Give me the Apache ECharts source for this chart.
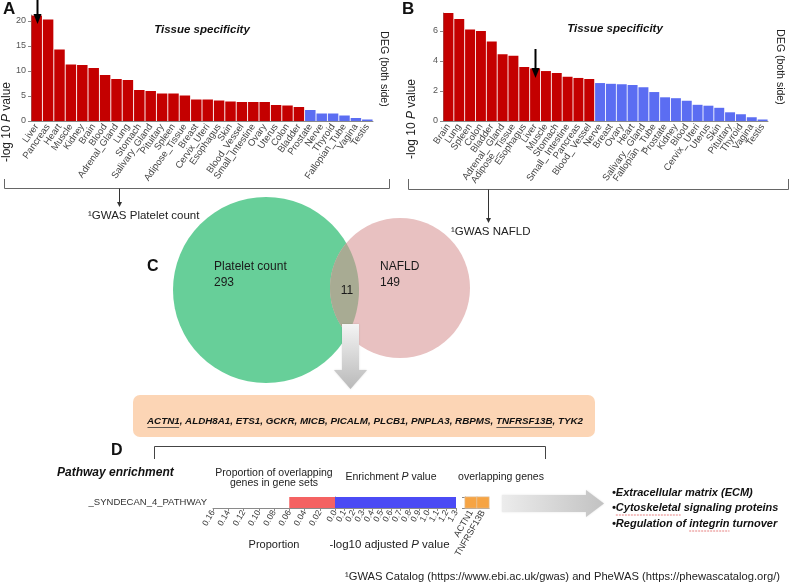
<!DOCTYPE html>
<html><head><meta charset="utf-8">
<script src="https://cdn.jsdelivr.net/npm/echarts/dist/echarts.min.js"></script>
<style>html,body{margin:0;padding:0;background:#fff}#c{width:793px;height:587px}</style>
</head><body><div id="c"></div>
<script>
// ---------- DATA ----------
const tissuesA = ['Liver','Pancreas','Heart','Muscle','Kidney','Brain','Blood','Adrenal_Gland','Lung','Stomach','Salivary_Gland','Pituitary','Spleen','Adipose_Tissue','Breast','Cervix_Uteri','Esophagus','Skin','Blood_Vessel','Small_Intestine','Ovary','Uterus','Colon','Bladder','Prostate','Nerve','Thyroid','Fallopian_Tube','Vagina','Testis'];
const valuesA = [21.1,20.3,14.3,11.3,11.2,10.6,9.2,8.4,8.2,6.2,6.0,5.5,5.5,5.1,4.3,4.3,4.1,3.9,3.8,3.8,3.8,3.2,3.1,2.8,2.2,1.5,1.5,1.1,0.6,0.3];
const sigCountA = 24;
const tissuesB = ['Brain','Lung','Spleen','Colon','Bladder','Adrenal_ Gland','Adipose_ Tissue','Esophagus','Liver','Muscle','Stomach','Small_ Intestine','Pancreas','Blood_ Vessel','Nerve','Breast','Ovary','Heart','Salivary_ Gland','Fallopian_ Tube','Prostate','Kidney','Blood','Cervix_ Uteri','Uterus','Skin','Pituitary','Thyroid','Vagina','Testis'];
const valuesB = [7.2,6.8,6.1,6.0,5.3,4.45,4.35,3.6,3.5,3.33,3.2,2.95,2.87,2.8,2.53,2.48,2.45,2.4,2.25,1.93,1.58,1.52,1.35,1.08,1.02,0.88,0.58,0.45,0.25,0.1];
const sigCountB = 14;
const markedTissue = 'Liver';
const vennNames = ['Platelet count','NAFLD'];
const vennCounts = [293,149,11];
const gwasLabels = ['GWAS Platelet count','GWAS NAFLD'];
const overlapGenes = ['ACTN1','ALDH8A1','ETS1','GCKR','MICB','PICALM','PLCB1','PNPLA3','RBPMS','TNFRSF13B','TYK2'];
const underlinedGenes = ['ACTN1','TNFRSF13B'];
const pathways = ['_SYNDECAN_4_PATHWAY'];
const proportion = [0.06];
const enrichment = [1.3];
const pathwayGenes = ['ACTN1','TNFRSF13B'];
const propTicks = [0,0.02,0.04,0.06,0.08,0.10,0.12,0.14,0.16];
const pTicks = [0,0.1,0.2,0.3,0.4,0.5,0.6,0.7,0.8,0.9,1.0,1.1,1.2,1.3];
const bullets = ['Extracellular matrix (ECM)','Cytoskeletal signaling proteins','Regulation of integrin turnover'];
const footnote = 'GWAS Catalog (https://www.ebi.ac.uk/gwas) and PheWAS (https://phewascatalog.org/)';

// ---------- STYLE ----------
const FF = '"Liberation Sans", Arial, sans-serif';
const RED = '#C40000', BLUE = '#5B6DF2';
const AX = '#8a8a8a';
const chart = echarts.init(document.getElementById('c'), null, {renderer:'canvas'});

function catX(gi, data){
  return {type:'category', gridIndex:gi, data:data,
    axisLine:{lineStyle:{color:AX}}, axisTick:{alignWithLabel:true,length:3,lineStyle:{color:AX}},
    axisLabel:{interval:0, rotate:55, fontSize:9.5, color:'#444', margin:4, fontFamily:FF, hideOverlap:false}};
}
function valY(gi, max, interval){
  return {type:'value', gridIndex:gi, min:0, max:max, interval:interval,
    axisLine:{show:true,lineStyle:{color:AX}}, axisTick:{show:true,length:3,lineStyle:{color:AX}},
    splitLine:{show:false}, axisLabel:{fontSize:9, color:'#555', margin:5, fontFamily:FF, showMaxLabel:false}};
}
const dLabel = {rotate:60, fontSize:8.5, color:'#333', margin:3, fontFamily:FF, hideOverlap:false};
const option = {
  animation:false,
  backgroundColor:'#fff',
  grid:[
    {left:31, top:15, width:342, height:106, outerBoundsMode:'none'},
    {left:443, top:13, width:325, height:108, outerBoundsMode:'none'},
    {left:213, top:497, width:122, height:11, outerBoundsMode:'none'},
    {left:335, top:497, width:121, height:11, outerBoundsMode:'none'},
    {left:465, top:497, width:24, height:11, outerBoundsMode:'none'}
  ],
  xAxis:[
    catX(0, tissuesA),
    catX(1, tissuesB),
    {type:'value', gridIndex:2, inverse:true, min:propTicks[0], max:propTicks[propTicks.length-1], interval:0.02,
     axisLine:{show:true,lineStyle:{color:AX}}, axisTick:{show:true,length:3,lineStyle:{color:AX}}, splitLine:{show:false},
     axisLabel:Object.assign({}, dLabel, {showMinLabel:false, showMaxLabel:true, formatter:v=>v.toFixed(2)}),
     name:'Proportion', nameLocation:'middle', nameGap:31, nameTextStyle:{fontSize:11, color:'#222', fontFamily:FF}},
    {type:'value', gridIndex:3, min:pTicks[0], max:pTicks[pTicks.length-1], interval:0.1,
     axisLine:{show:true,lineStyle:{color:AX}}, axisTick:{show:true,length:3,lineStyle:{color:AX}}, splitLine:{show:false},
     axisLabel:{show:false},
     name:'-log10 adjusted {i|P} value', nameLocation:'middle', nameGap:31,
     nameTextStyle:{fontSize:11.5, color:'#222', fontFamily:FF, padding:[0,12,0,0], rich:{i:{fontStyle:'italic', fontSize:11.5, color:'#222', fontFamily:FF}}}},
    {type:'category', gridIndex:4, data:pathwayGenes,
     axisLine:{show:true,lineStyle:{color:AX}}, axisTick:{show:false},
     axisLabel:Object.assign({}, dLabel, {interval:0, fontSize:9})}
  ],
  yAxis:[
    valY(0, 21.2, 5),
    valY(1, 7.2, 2),
    {type:'category', gridIndex:2, data:pathways,
     axisLine:{show:true,lineStyle:{color:AX}}, axisTick:{show:true,length:3,lineStyle:{color:AX}},
     axisLabel:{fontSize:9.5, color:'#333', margin:6, fontFamily:FF}},
    {type:'category', gridIndex:3, data:pathways, show:false},
    {type:'category', gridIndex:4, data:pathways,
     axisLine:{show:true,lineStyle:{color:AX}}, axisTick:{show:true,length:3,lineStyle:{color:AX}},
     axisLabel:{show:false}}
  ],
  series:[
    {type:'bar', xAxisIndex:0, yAxisIndex:0, data:valuesA, barCategoryGap:'8%',
     itemStyle:{color:p=>p.dataIndex<sigCountA?RED:BLUE}},
    {type:'bar', xAxisIndex:1, yAxisIndex:1, data:valuesB, barCategoryGap:'8%',
     itemStyle:{color:p=>p.dataIndex<sigCountB?RED:BLUE}},
    {type:'bar', xAxisIndex:2, yAxisIndex:2, data:proportion, barWidth:'100%', itemStyle:{color:'#F46262'}},
    {type:'bar', xAxisIndex:3, yAxisIndex:3, data:enrichment, barWidth:'100%', itemStyle:{color:'#4B4BF5'}},
    {type:'heatmap', xAxisIndex:4, yAxisIndex:4, data:pathwayGenes.map((g,i)=>[i,0,1]),
     itemStyle:{color:'#F6A444', borderColor:'#e0d0c0', borderWidth:0.6}}
  ]
};
chart.setOption(option);

// ---------- ANNOTATIONS ----------
const mctx = document.createElement('canvas').getContext('2d');
function tw(t, font){ mctx.font = font; return mctx.measureText(t).width; }
function txt(x,y,text,font,opts){
  opts = opts||{};
  return Object.assign({type:'text', x:x, y:y, z:50, style:{text:text, font:font, fill:opts.fill||'#111',
    textAlign:opts.align||'left', textVerticalAlign:opts.va||'middle', align:opts.align||'left', verticalAlign:opts.va||'middle',
    rich:opts.rich}}, opts.el||{});
}
function line(pts, color, w, dash){
  return {type:'polyline', z:40, shape:{points:pts}, style:{stroke:color||'#555', lineWidth:w||1, fill:null, lineDash:dash||null}};
}
function poly(pts, fill, z){ return {type:'polygon', z:z||45, shape:{points:pts}, style:{fill:fill}}; }
function downArrow(x, y1, y2, hw, hl, color, w){
  return [line([[x,y1],[x,y2-hl+1]], color, w), poly([[x-hw,y2-hl],[x+hw,y2-hl],[x,y2]], color, 60)];
}
const G = [];
const boldF = s => 'bold '+s+'px '+FF;
const biF = s => 'italic bold '+s+'px '+FF;
const nF = s => s+'px '+FF;

// p-value axis tick labels (positions from the axis scale)
const pAxisY = chart.convertToPixel({yAxisIndex:3}, pathways[0]) + 5.5 + 3;
pTicks.forEach(v=>{
  const x = chart.convertToPixel({xAxisIndex:3}, v);
  G.push(txt(x, pAxisY, v.toFixed(1), nF(8.5), {align:'right', fill:'#333', el:{rotation:Math.PI/3}}));
});

// Panel letters
G.push(txt(3,9,'A',boldF(17)), txt(402,9,'B',boldF(17)), txt(147,267,'C',boldF(16)), txt(111,451,'D',boldF(16)));
// Titles
G.push(txt(202,30,'Tissue specificity',biF(11.5),{align:'center'}));
G.push(txt(615,29,'Tissue specificity',biF(11.5),{align:'center'}));
// y names
const yname = '-log 10 {i|P} value';
const richI = {i:{fontStyle:'italic', fontSize:12, fontFamily:FF, fill:'#222'}};
G.push(txt(7,122,yname,nF(12),{align:'center',fill:'#222',rich:richI,el:{rotation:Math.PI/2}}));
G.push(txt(412,119,yname,nF(12),{align:'center',fill:'#222',rich:richI,el:{rotation:Math.PI/2}}));
G.push(txt(384,69,'DEG (both side)',nF(10.5),{align:'center',fill:'#222',el:{rotation:-Math.PI/2}}));
G.push(txt(780,67,'DEG (both side)',nF(10.5),{align:'center',fill:'#222',el:{rotation:-Math.PI/2}}));
// black marker arrows
const ax = chart.convertToPixel({xAxisIndex:0}, markedTissue);
const bx = chart.convertToPixel({xAxisIndex:1}, markedTissue);
G.push(...downArrow(Math.round(ax)+0.5, 0, 24, 4, 10, '#000', 2));
G.push(...downArrow(Math.round(bx)+0.5, 49, 78, 4, 10, '#000', 2));
// brackets
G.push(line([[4.5,179],[4.5,188.5],[389.5,188.5],[389.5,179]], '#666', 1));
G.push(line([[408.5,179],[408.5,189.5],[788.5,189.5],[788.5,179]], '#666', 1));
G.push(...downArrow(119.5, 188.5, 207, 2.5, 5, '#333', 1));
G.push(...downArrow(488.5, 189.5, 223, 2.5, 5, '#333', 1));
G.push(txt(88,216,'\u00B9'+gwasLabels[0],nF(11.5),{fill:'#222'}));
G.push(txt(451,232,'\u00B9'+gwasLabels[1],nF(11.5),{fill:'#222'}));

// Venn
const c1 = {x:266, y:290, r:93}, c2 = {x:400, y:288, r:70};
G.push({type:'circle', z:10, shape:{cx:c1.x, cy:c1.y, r:c1.r}, style:{fill:'#67CF99'}});
G.push({type:'circle', z:11, shape:{cx:c2.x, cy:c2.y, r:c2.r}, style:{fill:'#E8C1C1'}});
(function(){
  const dx=c2.x-c1.x, dy=c2.y-c1.y, d=Math.hypot(dx,dy), phi=Math.atan2(dy,dx);
  const a=(c1.r*c1.r-c2.r*c2.r+d*d)/(2*d);
  const a1=Math.acos(a/c1.r), a2=Math.acos((d-a)/c2.r);
  const pts=[]; const N=40;
  for(let i=0;i<=N;i++){const t=phi-a1+2*a1*i/N; pts.push([c1.x+c1.r*Math.cos(t), c1.y+c1.r*Math.sin(t)]);}
  for(let i=0;i<=N;i++){const t=phi+Math.PI-a2+2*a2*i/N; pts.push([c2.x+c2.r*Math.cos(t), c2.y+c2.r*Math.sin(t)]);}
  G.push({type:'polygon', z:12, shape:{points:pts}, style:{fill:'#A8AB93'}});
})();
G.push(txt(214,267,vennNames[0],nF(12),{fill:'#1a1a1a'}), txt(214,283,String(vennCounts[0]),nF(12),{fill:'#1a1a1a'}));
G.push(txt(380,267,vennNames[1],nF(12),{fill:'#1a1a1a'}), txt(380,283,String(vennCounts[1]),nF(12),{fill:'#1a1a1a'}));
G.push(txt(347,291,String(vennCounts[2]),nF(12),{fill:'#1a1a1a',align:'center'}));
// grey down arrow
G.push({type:'polygon', z:20, shape:{points:[[342,324],[359,324],[359,370],[367,370],[350.5,389],[334,370],[342,370]]},
  style:{fill:{type:'linear',x:0,y:0,x2:0,y2:1,colorStops:[{offset:0,color:'#f4f4f4'},{offset:1,color:'#b9b9b9'}]}, shadowBlur:2, shadowColor:'rgba(0,0,0,0.15)'}});

// Gene box
G.push({type:'rect', z:15, shape:{x:133,y:395,width:462,height:42,r:7}, style:{fill:'#FCD5B5'}});
(function(){
  const font = biF(9.8);
  let x = 147; const y = 421;
  overlapGenes.forEach((g,i)=>{
    const s = g + (i<overlapGenes.length-1?', ':'');
    G.push(txt(x,y,s,font,{fill:'#111'}));
    if(underlinedGenes.indexOf(g)>=0){
      G.push(line([[x+0.5,y+6.5],[x+tw(g,font)-0.5,y+6.5]], '#333', 0.8));
    }
    x += tw(s,font);
  });
})();

// Panel D
G.push(line([[154.5,459],[154.5,446.5],[545.5,446.5],[545.5,459]], '#444', 1));
G.push(txt(57,473,'Pathway enrichment',biF(12)));
G.push(txt(274,473,'Proportion of overlapping',nF(10.5),{align:'center',fill:'#222'}));
G.push(txt(274,483,'genes in gene sets',nF(10.5),{align:'center',fill:'#222'}));
G.push(txt(391,477,'Enrichment {i|P} value',nF(10.5),{align:'center',fill:'#222',rich:{i:{fontStyle:'italic',fontSize:10.5,fontFamily:FF,fill:'#222'}}}));
G.push(txt(501,477,'overlapping genes',nF(10.5),{align:'center',fill:'#222'}));
// right grey arrow
G.push({type:'polygon', z:20, shape:{points:[[502,495],[586,495],[586,490],[604,503.5],[586,517],[586,512],[502,512]]},
  style:{fill:{type:'linear',x:0,y:0,x2:1,y2:0,colorStops:[{offset:0,color:'#ececec'},{offset:1,color:'#c2c2c2'}]}, shadowBlur:2, shadowColor:'rgba(0,0,0,0.12)'}});
// bullets
(function(){
  const font = biF(11);
  const ys = [493,508,524];
  const flagged = ['Cytoskeletal','integrin'];
  bullets.forEach((b,i)=>{
    const s = '\u2022'+b;
    G.push(txt(612,ys[i],s,font,{fill:'#111'}));
    flagged.forEach(w=>{
      const k = s.indexOf(w);
      if(k>=0){
        const x0 = 612 + tw(s.slice(0,k),font), x1 = x0 + tw(w,font);
        G.push(line([[x0,ys[i]+7],[x1,ys[i]+7]], '#E06060', 0.8, [2,1]));
      }
    });
  });
})();
// footnote
G.push(txt(345,577,'\u00B9'+footnote,nF(11.2),{fill:'#222'}));

chart.setOption({graphic:{elements:G}});
</script></body></html>
